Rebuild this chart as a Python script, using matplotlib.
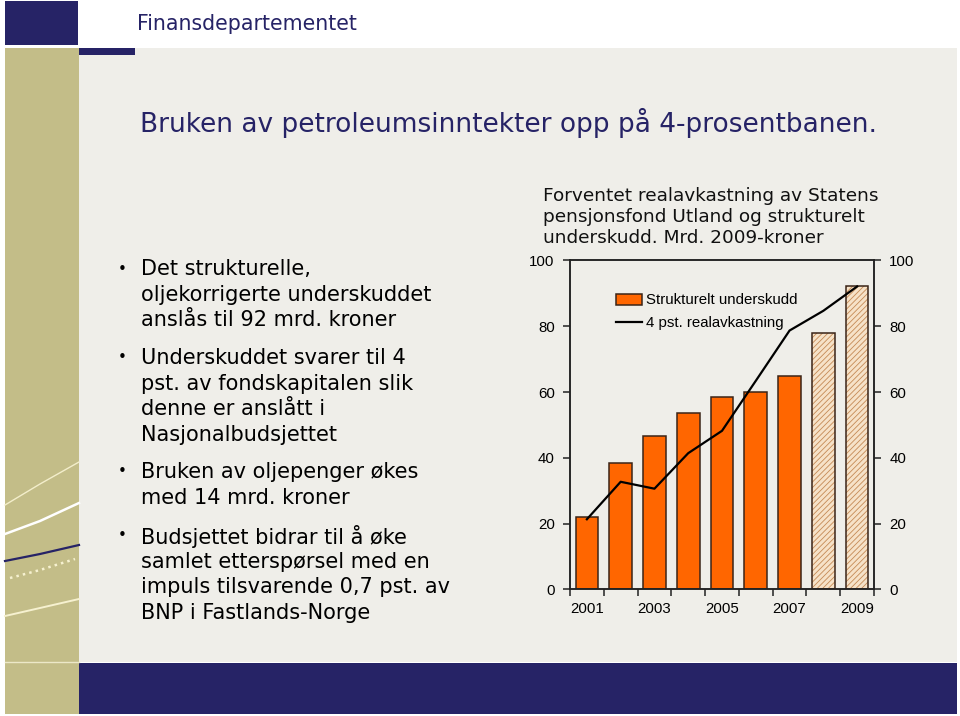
import matplotlib
matplotlib.use("Agg")
import matplotlib.pyplot as plt
from matplotlib.patches import Rectangle
from matplotlib.lines import Line2D

# data
years = ["2001", "2002", "2003", "2004", "2005", "2006", "2007", "2008", "2009"]
underskudd = [22.1, 38.5, 46.7, 53.5, 58.4, 60.1, 64.9, 78.0, 92.1]
realavkastning = [21.3, 32.7, 30.6, 41.4, 48.2, 63.4, 78.7, 84.7, 92.1]
anslag = [False, False, False, False, False, False, False, True, True]  # skraverte søyler

header = "Finansdepartementet"
title = "Bruken av petroleumsinntekter opp på 4-prosentbanen."
chart_title = "Forventet realavkastning av Statens\npensjonsfond Utland og strukturelt\nunderskudd. Mrd. 2009-kroner"
bullets = [
    ["Det strukturelle,", "oljekorrigerte underskuddet", "anslås til 92 mrd. kroner"],
    ["Underskuddet svarer til 4", "pst. av fondskapitalen slik", "denne er anslått i", "Nasjonalbudsjettet"],
    ["Bruken av oljepenger økes", "med 14 mrd. kroner"],
    ["Budsjettet bidrar til å øke", "samlet etterspørsel med en", "impuls tilsvarende 0,7 pst. av", "BNP i Fastlands-Norge"],
]
bullet_y = [269, 358, 472, 536]

navy = "#262366"
olive = "#c3bd88"
bg = "#efeee9"
orange = "#ff6600"

W, H = 960, 716
fig = plt.figure(figsize=(W / 100, H / 100), dpi=100)
fig.patch.set_facecolor("white")


def fx(x):
    return x / W


def fy(y):
    return 1 - y / H


def rect(x0, y0, x1, y1, color):
    fig.add_artist(Rectangle((fx(x0), fy(y1)), fx(x1 - x0), (y1 - y0) / H,
                             transform=fig.transFigure, facecolor=color,
                             edgecolor="none", zorder=0))


# slide background
rect(79, 48, 957, 662, bg)
rect(5, 1, 78, 45, navy)
rect(5, 48, 79, 714, olive)
rect(79, 48, 135, 55, navy)
rect(79, 663, 957, 714, navy)
fig.add_artist(Line2D([fx(5), fx(79)], [fy(662), fy(662)], transform=fig.transFigure,
                      color="#ece8c8", lw=1))

# pynt i den venstre kolonnen
deco = [([5, 40, 79], [505, 484, 462], "#f3eecb", 1.0, "-"),
        ([5, 40, 79], [534, 521, 503], "white", 1.8, "-"),
        ([5, 40, 79], [561, 554, 545], navy, 1.6, "-"),
        ([10, 40, 75], [578, 570, 559], "#f6f1d0", 1.8, ":"),
        ([5, 40, 79], [616, 608, 599], "#f6f1d0", 1.4, "-")]
for xs, ys, c, lw, ls in deco:
    fig.add_artist(Line2D([fx(v) for v in xs], [fy(v) for v in ys],
                          transform=fig.transFigure, color=c, lw=lw, ls=ls))

fig.text(fx(137), fy(24), header, color=navy, fontsize=14.8, family="DejaVu Sans",
         va="center", ha="left")
fig.text(fx(140), fy(123), title, color=navy, fontsize=19, family="DejaVu Sans",
         va="center", ha="left")

for lines, y0 in zip(bullets, bullet_y):
    fig.text(fx(118), fy(y0), "•", fontsize=11, va="center", ha="left", color="black")
    for i, line in enumerate(lines):
        fig.text(fx(141), fy(y0 + i * 25.6), line, fontsize=15, family="DejaVu Sans",
                 va="center", ha="left", color="black")

fig.text(fx(543), fy(217), chart_title, fontsize=13.3, family="DejaVu Sans",
         va="center", ha="left", linespacing=1.24, color="#111111")

# chart
plt.rcParams["font.family"] = ["Liberation Sans", "DejaVu Sans"]
ax = fig.add_axes([fx(570), fy(589.3), fx(874 - 570), (589.3 - 260.5) / H])
ax.set_facecolor("none")
x = list(range(len(years)))
solid_x = [i for i in x if not anslag[i]]
hatch_x = [i for i in x if anslag[i]]
b = ax.bar(solid_x, [underskudd[i] for i in solid_x], width=0.67, color=orange,
           edgecolor="#3a2418", linewidth=1.1, zorder=2)
plt.rcParams["hatch.linewidth"] = 0.6
ax.bar(hatch_x, [underskudd[i] for i in hatch_x], width=0.67, color="#f6e2c8",
       edgecolor="#c58a55", hatch="//////", linewidth=0, zorder=2)
ax.bar(hatch_x, [underskudd[i] for i in hatch_x], width=0.67, fill=False,
       edgecolor="#3a2418", linewidth=1.1, zorder=3)
ln, = ax.plot(x, realavkastning, color="black", lw=1.6, zorder=4)

ax.set_xlim(-0.5, len(years) - 0.5)
ax.set_ylim(0, 100)
ax.set_yticks(range(0, 101, 20))
ax.set_xticks([i - 0.5 for i in range(len(years) + 1)])
ax.set_xticklabels([])
ax.set_xticks(x[::2], minor=True)
ax.set_xticklabels(years[::2], minor=True)
ax.tick_params(axis="x", which="major", direction="out", length=5, width=1.1, color="#222222")
ax.tick_params(axis="x", which="minor", length=0, pad=9, labelsize=10.8)
ax.tick_params(axis="y", direction="out", length=5, width=1.1, pad=6, labelsize=10.8,
               color="#222222")
for s in ax.spines.values():
    s.set_linewidth(1.1)
    s.set_color("#222222")

ax2 = ax.twinx()
ax2.set_ylim(0, 100)
ax2.set_yticks(range(0, 101, 20))
ax2.tick_params(axis="y", direction="out", length=5, width=1.1, pad=6, labelsize=10.8,
                color="#222222")
for s in ax2.spines.values():
    s.set_linewidth(1.1)
    s.set_color("#222222")

leg = ax.legend([b, ln], ["Strukturelt underskudd", "4 pst. realavkastning"],
                loc="upper left", bbox_to_anchor=(0.15, 0.90), frameon=False,
                fontsize=10.8, handlelength=1.75, handleheight=0.75, handletextpad=0.3,
                labelspacing=0.6, borderaxespad=0, borderpad=0)

fig.savefig("out.png", dpi=100, facecolor=fig.get_facecolor())
